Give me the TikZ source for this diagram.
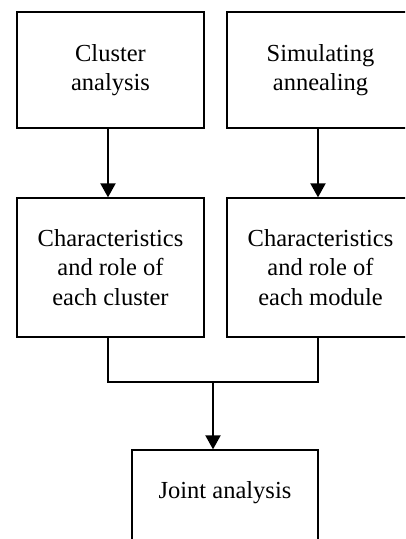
\documentclass[tikz,border=0pt]{standalone}
\usepackage{fontspec}
\setmainfont{Liberation Serif}
\usetikzlibrary{arrows.meta}
\tikzset{
  box/.style={draw, line width=1.3pt, minimum width=187pt, inner sep=0pt, align=center,
    font=\fontsize{24.5}{29.5}\selectfont},
  arr/.style={line width=2pt, -{Triangle[width=15pt,length=14pt]}},
  conn/.style={line width=1.3pt}
}
\begin{document}
\begin{tikzpicture}[x=1pt,y=1pt]
\useasboundingbox (0,0) rectangle (405,-539);
\clip (0,0) rectangle (405,-539);
\node[box, minimum height=116pt] (A) at (110.5,-70) {Cluster\\analysis};
\node[box, minimum height=116pt] (B) at (320.5,-70) {Simulating\\annealing};
\node[box, minimum height=139pt] (C) at (110.5,-267.5) {Characteristics\\and role of\\each cluster};
\node[box, minimum height=139pt] (D) at (320.5,-267.5) {Characteristics\\and role of\\each module};
\node[box, minimum width=186pt, minimum height=110pt] (E) at (225,-505) {\raisebox{12pt}[\height][\depth]{Joint analysis}};
\draw[arr] ([xshift=-2.5pt]A.south) -- ([xshift=-2.5pt]C.north);
\draw[arr] ([xshift=-2.5pt]B.south) -- ([xshift=-2.5pt]D.north);
\coordinate (m) at (213,-382);
\draw[conn] ([xshift=-2.5pt]C.south) |- (m) -| ([xshift=-2.5pt]D.south);
\draw[arr] (m) -- (m |- E.north);
\end{tikzpicture}
\end{document}
